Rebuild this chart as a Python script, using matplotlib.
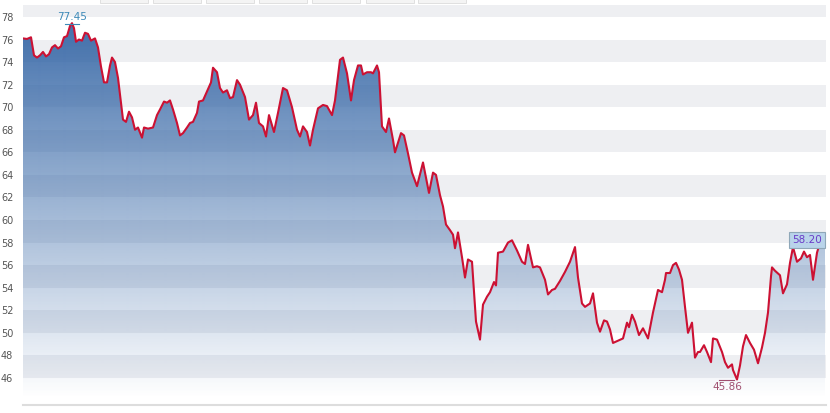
import numpy as np
import matplotlib
matplotlib.use("Agg")
import matplotlib.pyplot as plt
from matplotlib.patches import Rectangle

# trading day offsets and closing values
days = [0, 4, 8, 11, 14, 17, 20, 23, 26, 29, 32, 35, 38, 41, 44, 47, 49, 51, 53, 56,
        59, 62, 65, 68, 72, 75, 78, 81, 84, 87, 89, 92, 95, 98, 100, 103, 106, 109, 112, 115,
        119, 121, 125, 130, 134, 137, 141, 144, 147, 150, 154, 157, 160, 164, 167, 170, 174, 176, 180, 184,
        188, 190, 194, 197, 200, 204, 207, 210, 214, 217, 222, 226, 230, 233, 236, 240, 243, 246, 251, 255,
        260, 264, 269, 274, 277, 280, 284, 287, 290, 295, 300, 304, 309, 312, 317, 320, 324, 328, 331, 335,
        338, 340, 344, 348, 350, 354, 356, 359, 363, 366, 370, 372, 378, 381, 385, 389, 394, 400, 406, 410,
        413, 417, 420, 423, 427, 430, 432, 435, 439, 442, 445, 449, 453, 457, 460, 464, 467, 471, 473, 475,
        480, 485, 489, 494, 499, 502, 505, 510, 514, 517, 522, 525, 529, 532, 537, 542, 547, 552, 555, 559,
        562, 567, 570, 574, 577, 581, 584, 587, 590, 595, 600, 604, 606, 609, 612, 616, 620, 625, 630, 635,
        639, 642, 643, 647, 650, 653, 656, 659, 662, 665, 669, 672, 675, 677, 681, 684, 688, 690, 694, 699,
        702, 705, 709, 710, 714, 717, 720, 723, 727, 731, 735, 739, 742, 745, 748, 749, 752, 757, 760, 764,
        767, 770, 774, 778, 781, 784, 787, 790, 794, 797, 800, 802]
close = [76.1, 76.05, 76.2, 74.6, 74.4, 74.6, 74.9, 74.5, 74.7, 75.3, 75.5, 75.2, 75.4, 76.2, 76.3, 77.2, 77.45, 77.0, 75.8, 76.0,
         75.9, 76.6, 76.5, 75.9, 76.1, 75.3, 73.6, 72.2, 72.2, 73.7, 74.4, 74.0, 72.6, 70.4, 68.9, 68.7, 69.6, 69.1, 68.0, 68.2,
         67.3, 68.2, 68.1, 68.2, 69.3, 69.8, 70.5, 70.4, 70.6, 69.8, 68.6, 67.5, 67.7, 68.2, 68.6, 68.7, 69.5, 70.5, 70.6, 71.4,
         72.2, 73.5, 73.1, 71.7, 71.3, 71.5, 70.8, 70.9, 72.4, 72.0, 70.9, 68.9, 69.3, 70.4, 68.6, 68.3, 67.4, 69.3, 67.8, 69.5,
         71.7, 71.5, 70.0, 68.0, 67.4, 68.3, 67.8, 66.6, 68.0, 69.9, 70.2, 70.1, 69.3, 70.6, 74.2, 74.4, 73.0, 70.6, 72.4, 73.7,
         73.7, 72.9, 73.1, 73.1, 73.0, 73.7, 73.1, 68.3, 67.8, 69.0, 67.1, 66.0, 67.7, 67.5, 65.9, 64.2, 63.0, 65.1, 62.4, 64.2,
         64.0, 62.2, 61.2, 59.6, 59.1, 58.7, 57.5, 58.9, 56.7, 54.9, 56.5, 56.3, 51.0, 49.4, 52.5, 53.2, 53.6, 54.5, 54.2, 57.1,
         57.2, 58.0, 58.2, 57.3, 56.3, 56.1, 57.8, 55.8, 55.9, 55.8, 54.7, 53.4, 53.8, 53.9, 54.6, 55.4, 56.3, 57.6, 54.9, 52.6,
         52.3, 52.6, 53.5, 50.9, 50.1, 51.1, 51.0, 50.3, 49.1, 49.3, 49.5, 50.9, 50.5, 51.6, 51.0, 49.8, 50.4, 49.5, 51.8, 53.8,
         53.6, 54.7, 55.3, 55.3, 56.0, 56.2, 55.6, 54.7, 52.3, 50.0, 50.9, 47.8, 48.3, 48.3, 48.9, 48.3, 47.4, 49.5, 49.4, 48.3,
         47.4, 46.9, 47.2, 46.7, 45.86, 47.1, 48.8, 49.8, 49.1, 48.5, 47.3, 48.7, 50.0, 51.8, 55.0, 55.8, 55.5, 55.1, 53.5, 54.3,
         56.2, 57.6, 56.3, 56.6, 57.2, 56.7, 56.9, 54.7, 57.1, 58.0, 58.2, 58.2]
yticks = [46, 48, 50, 52, 54, 56, 58, 60, 62, 64, 66, 68, 70, 72, 74, 76, 78]

n = min(len(days), len(close))
x = np.array(days[:n], dtype=float)
y = np.array(close[:n])

fig = plt.figure(figsize=(8.3, 4.13), dpi=100)
ax = fig.add_axes([23 / 830, 8 / 413, 803 / 830, 400 / 413])
ymin, ymax = 43.6, 79.06
ax.set_xlim(0, 803)
ax.set_ylim(ymin, ymax)

# alternating gray bands
for b in range(46, 80, 4):
    ax.axhspan(b, b + 2, color="#eeeff2", lw=0, zorder=0)

# gradient fill under the line, clipped to the area
poly = ax.fill_between(x, y, ymin, facecolor="none", edgecolor="none")
vals = np.linspace(ymax, ymin, 400)
alpha = np.clip((vals - 44.2) * 0.0277, 0, 1)
grad = np.zeros((400, 1, 4))
grad[:, 0, 0] = 50 / 255
grad[:, 0, 1] = 100 / 255
grad[:, 0, 2] = 165 / 255
grad[:, 0, 3] = alpha
im = ax.imshow(grad, extent=(0, 803, ymin, ymax), aspect="auto", zorder=1, interpolation="bilinear")
im.set_clip_path(poly.get_paths()[0], transform=ax.transData)

ax.plot(x, y, color="#cc1133", lw=1.5, zorder=3, solid_joinstyle="round")

# max / min labels
imax = int(np.argmax(y))
imin = int(np.argmin(y))
ax.plot([x[imax] - 7, x[imax] + 7], [y[imax] - 0.05, y[imax] - 0.05], color="#3d8ab8", lw=0.8, zorder=4)
ax.text(x[imax], y[imax] + 0.1, "%.2f" % y[imax], color="#3d8ab8", fontsize=7.5,
        ha="center", va="bottom", zorder=4)
ax.plot([x[imin] - 18, x[imin] - 3], [y[imin], y[imin]], color="#a05070", lw=0.8, zorder=4)
ax.text(x[imin] - 10, y[imin] - 0.25, "%.2f" % y[imin], color="#a05070", fontsize=7.5,
        ha="center", va="top", zorder=4)

# last value box
ax.text(x[-1] - 3, y[-1], "%.2f" % y[-1], color="#6a3cc8", fontsize=7.5, ha="right", va="center",
        zorder=5, bbox=dict(boxstyle="square,pad=0.3", facecolor="#b9d4ea", edgecolor="#8fa7b8", lw=0.8))

ax.set_yticks(yticks)
ax.set_yticklabels([str(t) for t in yticks])
ax.set_xticks([])
ax.tick_params(axis="y", length=0, pad=7, labelsize=7, labelcolor="#555555")
for s in ["top", "right", "left"]:
    ax.spines[s].set_visible(False)
ax.spines["bottom"].set_color("#dddddd")
ax.spines["bottom"].set_linewidth(1.5)

# clipped tab buttons along the top edge
for left in [100, 153, 206, 259, 312, 366, 418]:
    fig.patches.append(Rectangle((left / 830, 410 / 413), 48 / 830, 6 / 413, transform=fig.transFigure,
                                 facecolor="#f4f4f4", edgecolor="#dcdcdc", lw=0.6))

fig.savefig("out.png", dpi=100)
